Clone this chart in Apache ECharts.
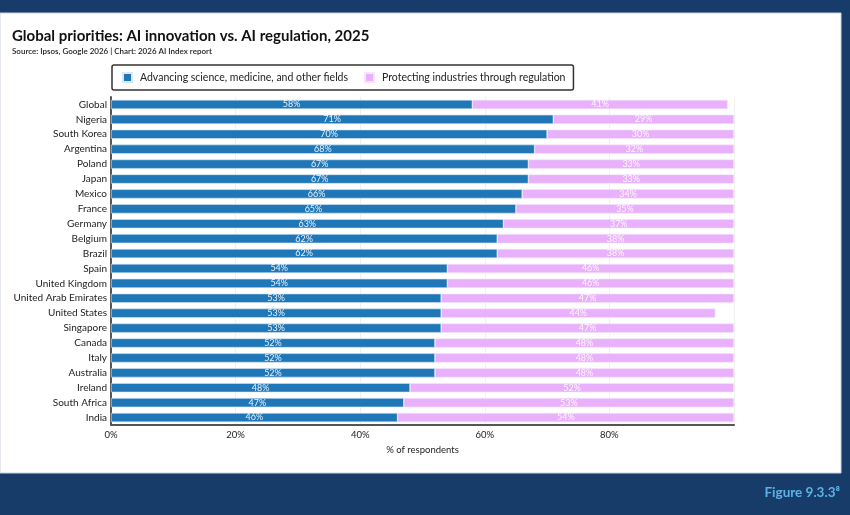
<!DOCTYPE html>
<html>
<head>
<meta charset="utf-8">
<script src="https://cdn.jsdelivr.net/npm/echarts@6/dist/echarts.min.js"></script>
<style>
  html, body { margin: 0; padding: 0; background: #183c6a; }
  #chart { width: 850px; height: 515px; }
</style>
</head>
<body>
<div id="chart"></div>
<script>
const countries = ['Global', 'Nigeria', 'South Korea', 'Argentina', 'Poland', 'Japan', 'Mexico', 'France',
  'Germany', 'Belgium', 'Brazil', 'Spain', 'United Kingdom', 'United Arab Emirates', 'United States',
  'Singapore', 'Canada', 'Italy', 'Australia', 'Ireland', 'South Africa', 'India'];
const advancing = [58, 71, 70, 68, 67, 67, 66, 65, 63, 62, 62, 54, 54, 53, 53, 53, 52, 52, 52, 48, 47, 46];
const protecting = [41, 29, 30, 32, 33, 33, 34, 35, 37, 38, 38, 46, 46, 47, 44, 47, 48, 48, 48, 52, 53, 54];
const xTicks = [0, 20, 40, 60, 80];

const chart = echarts.init(document.getElementById('chart'));

const font = 'Lato, "Noto Sans", sans-serif';

const barLabel = {
  show: true,
  position: 'inside',
  formatter: p => p.value + '%',
  color: 'rgba(255,255,255,0.9)',
  fontSize: 9,
  fontFamily: font
};

const option = {
  backgroundColor: '#183c6a',
  animation: false,
  graphic: [
    {
      type: 'rect',
      z: -10,
      shape: { x: 0, y: 13, width: 841, height: 460 },
      style: { fill: '#ffffff', stroke: '#c9d3e0', lineWidth: 1 }
    },
    {
      type: 'text',
      left: 12, top: 29,
      style: { text: 'Global priorities: AI innovation vs. AI regulation, 2025', fill: '#111', font: 'bold 15px ' + font }
    },
    {
      type: 'text',
      left: 12, top: 47,
      style: { text: 'Source: Ipsos, Google 2026 | Chart: 2026 AI Index report', fill: '#222', font: '600 8px ' + font }
    },
    {
      type: 'text',
      right: 10, top: 486,
      style: { text: 'Figure 9.3.3⁸', fill: '#5ab3e4', font: 'bold 13.5px ' + font }
    }
  ],
  legend: {
    left: 112, top: 65,
    padding: [7, 8, 7, 10],
    borderColor: '#333',
    borderWidth: 1.5,
    borderRadius: 2,
    itemWidth: 9, itemHeight: 9,
    itemGap: 16,
    icon: 'rect',
    textStyle: { color: '#222', fontSize: 10.5, fontFamily: font, padding: [0, 0, 0, 3] },
    data: ['Advancing science, medicine, and other fields', 'Protecting industries through regulation']
  },
  grid: { left: 111, right: 116, top: 97, height: 328 },
  xAxis: {
    type: 'value',
    min: 0, max: 100, interval: 20,
    name: '% of respondents',
    nameLocation: 'middle',
    nameGap: 19,
    nameTextStyle: { color: '#222', fontSize: 9.5, fontFamily: font },
    axisLine: { show: true, lineStyle: { color: '#555', width: 2 } },
    axisTick: { show: false },
    axisLabel: {
      color: '#222', fontSize: 9.5, fontFamily: font, margin: 5,
      formatter: v => xTicks.indexOf(v) >= 0 ? v + '%' : ''
    },
    splitLine: { show: true, lineStyle: { color: '#f0f0f0', width: 1 } }
  },
  yAxis: {
    type: 'category',
    inverse: true,
    data: countries,
    axisLine: { show: true, lineStyle: { color: '#555', width: 2 } },
    axisTick: { show: false },
    axisLabel: { color: '#222', fontSize: 10, fontFamily: font, margin: 4 }
  },
  series: [
    {
      name: 'Advancing science, medicine, and other fields',
      type: 'bar',
      stack: 'total',
      barWidth: '62%',
      itemStyle: { color: '#1f77b8', borderColor: '#d9e8f5', borderWidth: 0.6 },
      label: barLabel,
      data: advancing
    },
    {
      name: 'Protecting industries through regulation',
      type: 'bar',
      stack: 'total',
      barWidth: '62%',
      itemStyle: { color: '#e9b0fb', borderColor: '#f6e4fd', borderWidth: 0.6 },
      label: barLabel,
      data: protecting
    }
  ]
};

chart.setOption(option);
</script>
</body>
</html>
